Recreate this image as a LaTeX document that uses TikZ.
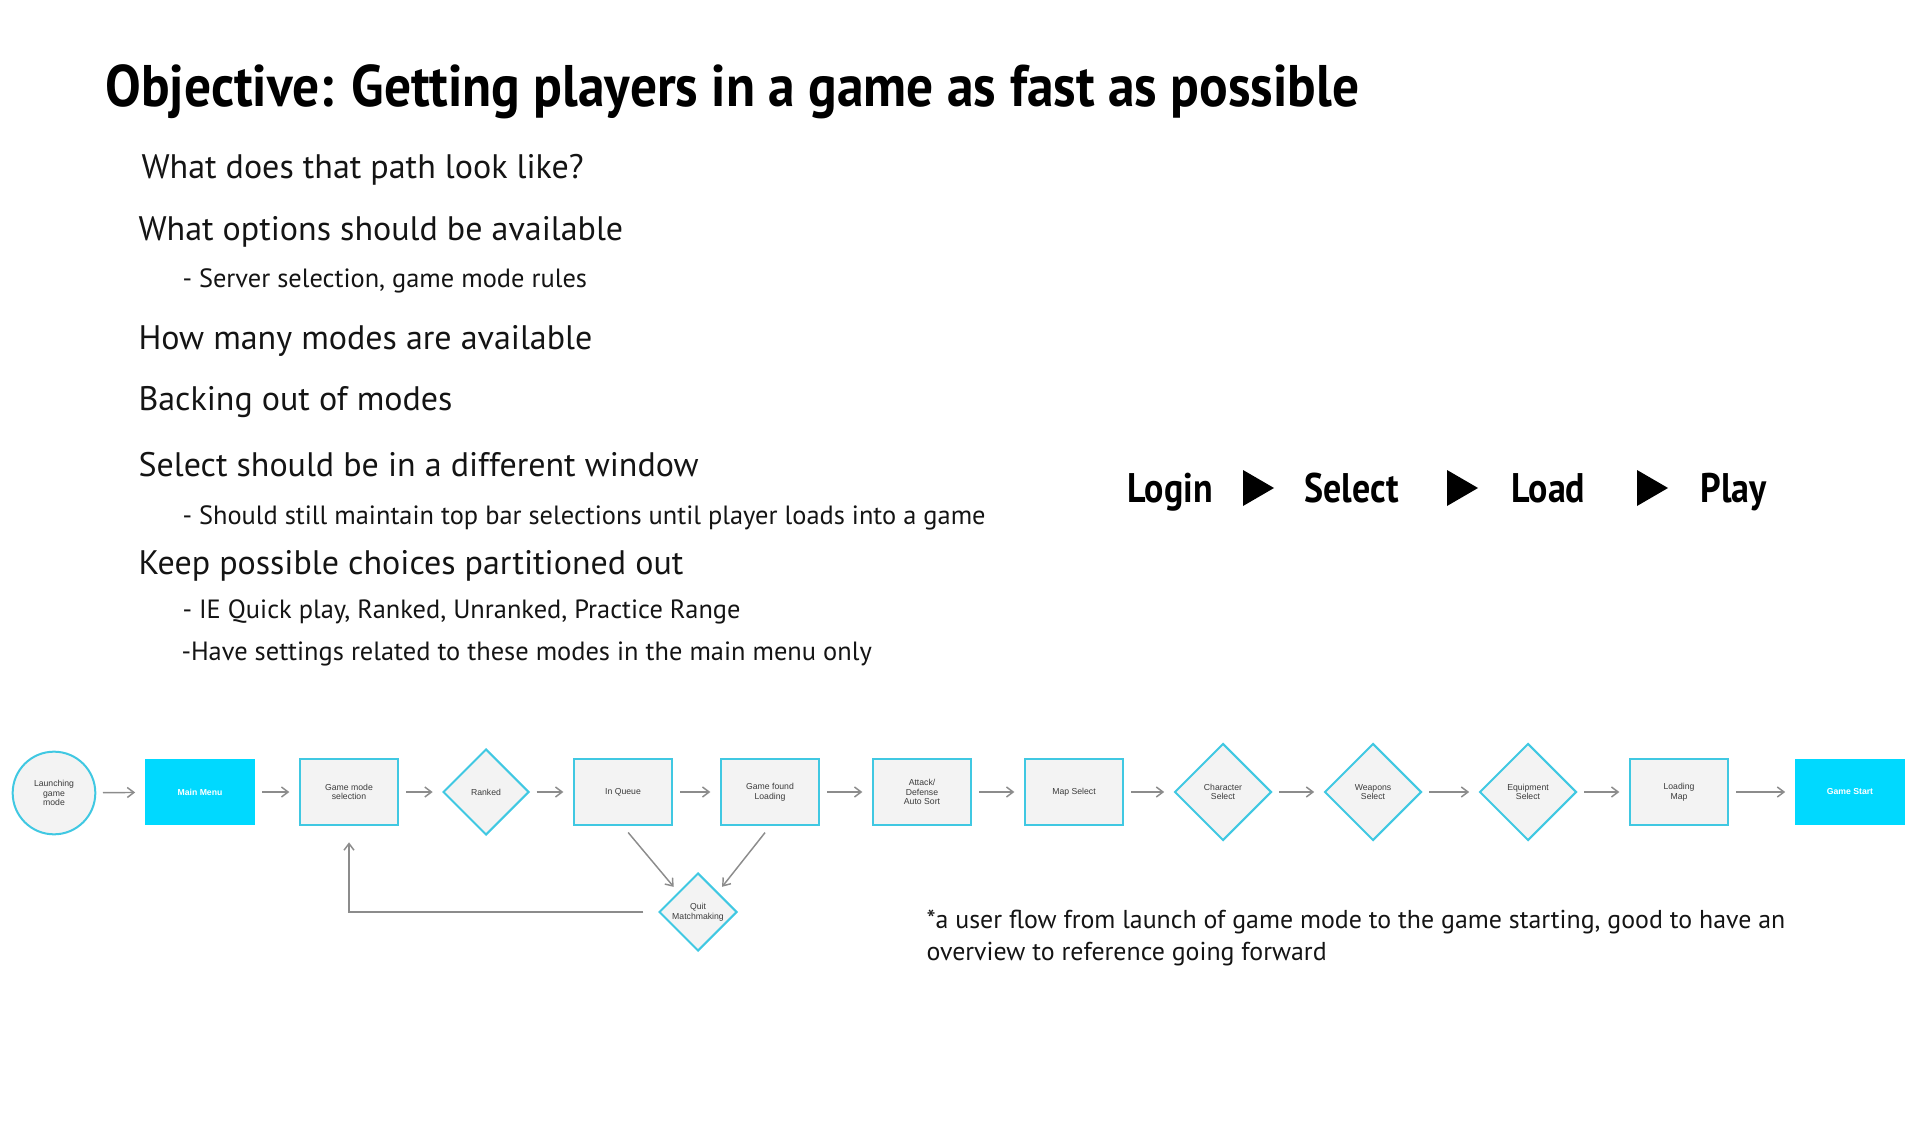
\documentclass[tikz,border=0pt]{standalone}
\usepackage{fontspec}
\setmainfont{PT Sans}
\newfontfamily\headfont{PT Sans}[FakeStretch=0.91]
\newfontfamily\stagefont{PT Sans}[FakeStretch=0.87]
\newfontfamily\boxfont{Liberation Sans}
\usetikzlibrary{shapes.geometric,arrows.meta}

\definecolor{flowcyan}{RGB}{0,217,255}
\definecolor{flowedge}{RGB}{64,200,226}
\definecolor{flowfill}{RGB}{243,243,243}
\definecolor{flowgray}{RGB}{140,140,140}
\definecolor{flowtext}{RGB}{60,60,60}

\tikzset{every picture/.style={line width=0.75pt}}
\tikzset{
  stepbox/.style={draw=flowedge, line width=1.5pt, fill=flowfill, minimum width=74pt, minimum height=50pt, inner sep=1pt, align=center, text=flowtext, font=\boxfont\fontsize{6.5}{7.2}\selectfont},
  keybox/.style={fill=flowcyan, minimum width=82.5pt, minimum height=50pt, inner sep=1pt, align=center, text=white, font=\boxfont\bfseries\fontsize{6.5}{7.2}\selectfont},
  choice/.style={diamond, aspect=1, draw=flowedge, line width=1.5pt, fill=flowfill, inner sep=0pt, minimum width=72.75pt, minimum height=72.75pt, align=center, text=flowtext, font=\boxfont\fontsize{6.5}{7.2}\selectfont},
  startnode/.style={circle, draw=flowedge, line width=1.5pt, fill=flowfill, inner sep=0pt, minimum size=62pt, align=center, text=flowtext, font=\boxfont\fontsize{6.5}{7.2}\selectfont},
  flowarrow/.style={draw=flowgray, line width=1.1pt, -{Straight Barb[length=5pt,width=7.5pt]}, shorten <=5pt, shorten >=7pt},
  note/.style={anchor=base west, inner sep=0pt, text=black!92},
  headline/.style={anchor=base west, inner sep=0pt, font=\headfont\bfseries\fontsize{44}{50}\selectfont},
  bigline/.style={note, font=\fontsize{25.5}{30}\selectfont},
  subline/.style={note, font=\fontsize{19.8}{24}\selectfont},
  stage/.style={anchor=base west, inner sep=0pt, font=\stagefont\bfseries\fontsize{31}{36}\selectfont},
}

\begin{document}
\begin{tikzpicture}[x=0.75pt,y=0.75pt,yscale=-1,xscale=1]
\path[use as bounding box] (0,0) rectangle (1920,1130);

% Text Node
\node[headline] (title) at (105,107) {Objective: Getting players in a game as fast as possible};
% Text Node
\node[bigline] (q1) at (141,179) {What does that path look like?};
\node[bigline] (q2) at (138,241) {What options should be available};
\node[subline] (q2a) at (182,288) {- Server selection, game mode rules};
\node[bigline] (q3) at (138,350) {How many modes are available};
\node[bigline] (q4) at (138,411) {Backing out of modes};
\node[bigline] (q5) at (138,476) {Select should be in a different window};
\node[subline] (q5a) at (182,524) {- Should still maintain top bar selections until player loads into a game};
\node[bigline] (q6) at (138,574) {Keep possible choices partitioned out};
\node[subline] (q6a) at (182,618) {- IE Quick play, Ranked, Unranked, Practice Range};
\node[subline] (q6b) at (181,660) {-Have settings related to these modes in the main menu only};

% Login > Select > Load > Play
\node[stage] (login) at (1127,502) {Login};
\node[stage] (select) at (1304,502) {Select};
\node[stage] (load) at (1511,502) {Load};
\node[stage] (play) at (1700,502) {Play};
%Shape: Triangle
\fill (1243,470) -- (1274,488) -- (1243,506) -- cycle;
\fill (1447,470) -- (1478,488) -- (1447,506) -- cycle;
\fill (1637,470) -- (1668,488) -- (1637,506) -- cycle;

%Shape: Flow nodes
\node[startnode] (launch) at (54,793) {Launching\\game\\mode};
\node[keybox] (menu) at (200,792) {Main Menu};
\node[stepbox] (modesel) at (349,792) {Game mode\\selection};
\node[choice, minimum width=64.5pt, minimum height=64.5pt] (ranked) at (486,792) {Ranked};
\node[stepbox] (queue) at (623,792) {In Queue};
\node[stepbox] (found) at (770,792) {Game found\\Loading};
\node[stepbox] (sides) at (922,792) {Attack/\\Defense\\Auto Sort};
\node[stepbox] (map) at (1074,792) {Map Select};
\node[choice] (character) at (1223,792) {Character\\Select};
\node[choice] (weapons) at (1373,792) {Weapons\\Select};
\node[choice] (equip) at (1528,792) {Equipment\\Select};
\node[stepbox] (loadmap) at (1679,792) {Loading\\Map};
\node[keybox] (gamestart) at (1850,792) {Game Start};
\node[choice, minimum width=58.5pt, minimum height=58.5pt] (quit) at (698,912) {Quit\\Matchmaking};

%Straight Lines
\draw[flowarrow] (launch) -- (menu);
\draw[flowarrow] (menu) -- (modesel);
\draw[flowarrow] (modesel) -- (ranked);
\draw[flowarrow] (ranked) -- (queue);
\draw[flowarrow] (queue) -- (found);
\draw[flowarrow] (found) -- (sides);
\draw[flowarrow] (sides) -- (map);
\draw[flowarrow] (map) -- (character);
\draw[flowarrow] (character) -- (weapons);
\draw[flowarrow] (weapons) -- (equip);
\draw[flowarrow] (equip) -- (loadmap);
\draw[flowarrow] (loadmap) -- (gamestart);
\draw[flowarrow, shorten <=6pt, shorten >=5pt] (queue.south) -- (quit.north west);
\draw[flowarrow, shorten <=6pt, shorten >=5pt] (found.south) -- (quit.north east);
\draw[flowarrow, shorten <=11pt, shorten >=12pt] (quit.west) -| (modesel.south);

% Text Node
\node[note, font=\fontsize{19.4}{24}\selectfont] (foot1) at (926,928) {*a user flow from launch of game mode to the game starting, good to have an};
\node[note, font=\fontsize{19.4}{24}\selectfont] (foot2) at (926,960) {overview to reference going forward};

\end{tikzpicture}
\end{document}
